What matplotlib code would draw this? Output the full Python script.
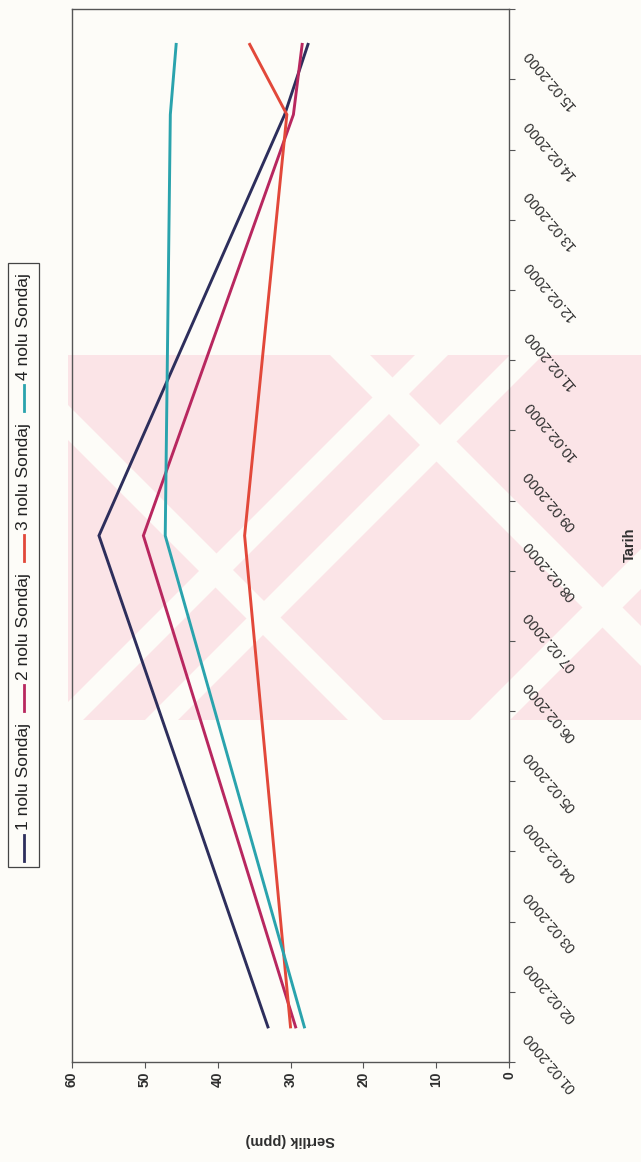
import matplotlib
matplotlib.use("Agg")
import matplotlib.pyplot as plt
import numpy as np
from matplotlib.patches import Rectangle, Polygon
from matplotlib.transforms import blended_transform_factory, ScaledTranslation

# ---- data -------------------------------------------------------------
dates = ["01.02.2000", "02.02.2000", "03.02.2000", "04.02.2000", "05.02.2000",
         "06.02.2000", "07.02.2000", "08.02.2000", "09.02.2000", "10.02.2000",
         "11.02.2000", "12.02.2000", "13.02.2000", "14.02.2000", "15.02.2000"]
sample_dates = ["01.02.2000", "08.02.2000", "14.02.2000", "15.02.2000"]
sondaj_1 = [33.1, 56.3, 30.8, 27.6]
sondaj_2 = [29.3, 50.2, 29.6, 28.4]
sondaj_3 = [30.0, 36.3, 30.5, 35.6]
sondaj_4 = [28.1, 47.2, 46.5, 45.7]
series_names = ["1 nolu Sondaj", "2 nolu Sondaj", "3 nolu Sondaj", "4 nolu Sondaj"]
value_ticks = [0, 10, 20, 30, 40, 50, 60]

colors = ["#2d2e5c", "#b8275f", "#e2483a", "#2aa3ad"]
FONT = "Liberation Sans"
plt.rcParams["font.family"] = [FONT, "DejaVu Sans"]

W, H = 641, 1162
paper = "#fdfcf8"
fig = plt.figure(figsize=(W / 100, H / 100), dpi=100, facecolor=paper)

# ---- page backdrop in pixel coordinates (faint pink watermark) ---------
bg = fig.add_axes([0, 0, 1, 1], zorder=0)
bg.set_xlim(0, W)
bg.set_ylim(H, 0)
bg.axis("off")
wm_top, wm_bot = 355, 720
span = wm_bot - wm_top
wm = Rectangle((68, wm_top), W - 68, span, facecolor="#fbe4e7", lw=0)
bg.add_patch(wm)
# rising stripes (lower-left to upper-right)
for x0, w in [(50, 33), (145, 33), (470, 40)]:
    band = Polygon([(x0, wm_bot), (x0 + w, wm_bot), (x0 + w + span, wm_top), (x0 + span, wm_top)],
                   closed=True, facecolor=paper, lw=0)
    bg.add_patch(band)
    band.set_clip_path(wm)
# falling stripes (upper-left to lower-right)
for x0, w in [(-17, 35), (330, 40)]:
    band = Polygon([(x0, wm_top), (x0 + w, wm_top), (x0 + w + span, wm_bot), (x0 + span, wm_bot)],
                   closed=True, facecolor=paper, lw=0)
    bg.add_patch(band)
    band.set_clip_path(wm)

# ---- chart -----------------------------------------------------------
frame_c = "#555555"
ink = "#2e2e2e"
ax = fig.add_axes([72 / W, 1 - 1062 / H, (509 - 72) / W, (1062 - 9.3) / H], zorder=2)
ax.set_facecolor("none")
ax.set_xlim(60, 0)
ax.set_ylim(0.5, len(dates) + 0.5)

positions = [dates.index(d) + 1 for d in sample_dates]
for vals, c in zip([sondaj_1, sondaj_2, sondaj_3, sondaj_4], colors):
    ax.plot(vals, positions, color=c, lw=2.1, solid_joinstyle="miter")

for s in ax.spines.values():
    s.set_color(frame_c)
    s.set_linewidth(1.0)

ax.set_xticks(value_ticks)
ax.set_xticklabels([str(v) for v in value_ticks], rotation=90,
                   fontsize=10, fontweight="bold", color=ink)
ax.tick_params(axis="x", direction="out", length=4, width=0.8, color=frame_c, pad=3)

ax.yaxis.tick_right()
ax.set_yticks(np.arange(0.5, len(dates) + 1, 1.0))
ax.set_yticklabels([])
ax.tick_params(axis="y", direction="out", length=4, width=0.8, color=frame_c)

trans = blended_transform_factory(ax.transAxes, ax.transData) + \
    ScaledTranslation(0.17, -0.07, fig.dpi_scale_trans)
for i, d in enumerate(dates):
    ax.text(1.0, i + 1, d, transform=trans, rotation=130, rotation_mode="anchor",
            ha="right", va="center", fontsize=10.5, color=ink)

fig.text(290 / W, 1 - 1140 / H, "Sertlik (ppm)", rotation=180, ha="center", va="center",
         fontsize=10.5, fontweight="bold", color=ink)
fig.text(630 / W, 1 - 545 / H, "Tarih", rotation=90, ha="center", va="center",
         fontsize=10.5, fontweight="bold", color=ink)

# ---- legend (vertical, reading bottom to top) --------------------------
fig.canvas.draw()
renderer = fig.canvas.get_renderer()
leg_x = 23.5
y = 861
for name, c in zip(series_names, colors):
    bg.plot([leg_x, leg_x], [y, y - 26], color=c, lw=2.0, zorder=3)
    t = bg.text(leg_x, y - 31, name, rotation=90, rotation_mode="anchor",
                ha="left", va="center", fontsize=12.5, color="#222222", zorder=3)
    bb = t.get_window_extent(renderer)
    y = (H - bb.y1) - 12
bg.add_patch(Rectangle((8, y + 2), 31, 867 - (y + 2), facecolor="none",
                       edgecolor="#444444", lw=0.9, zorder=3))

fig.savefig("out.png", dpi=100, facecolor=fig.get_facecolor())
